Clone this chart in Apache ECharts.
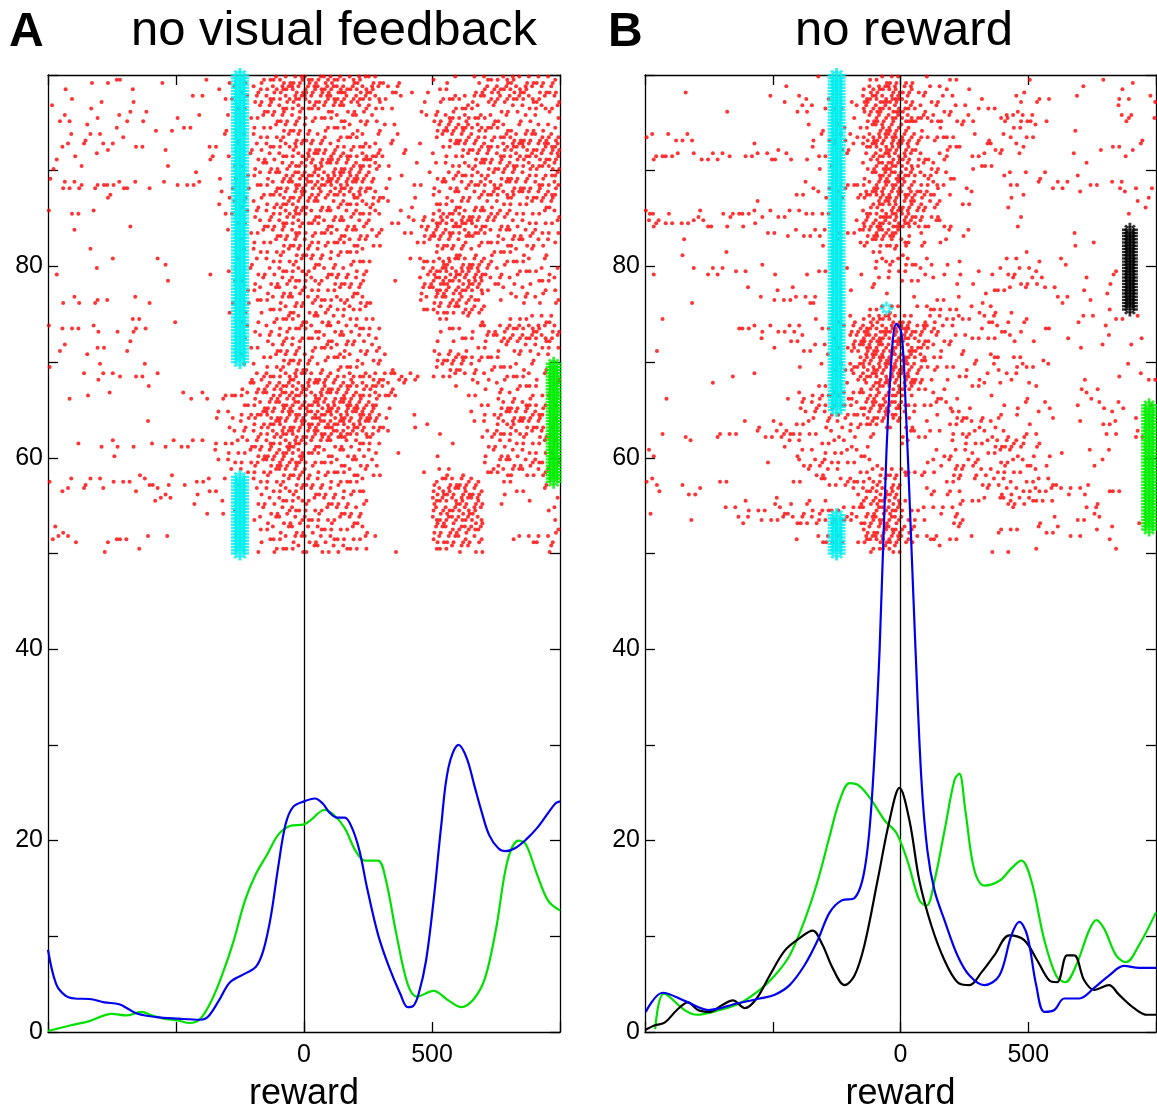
<!DOCTYPE html>
<html><head><meta charset="utf-8">
<script src="https://cdn.jsdelivr.net/npm/echarts@6/dist/echarts.min.js"></script>
<style>html,body{margin:0;padding:0;background:#fff}#c{width:1157px;height:1112px}</style>
</head><body><div id="c"></div>
<script>
// ---------------- DATA ----------------
const tickLabelsX = [0, 500];
const tickLabelsY = [0, 20, 40, 60, 80];
const xRange = [-1000, 1000];
const yRange = [0, 100];

// Raster density: one string per 1-unit trial band (top v=100 -> bottom v=50),
// 40 columns of 50 ms from -1000 ms; each digit = number of spike dots in that cell.
const rasterA = [
"0001120010 0010112345 5554441100 1202344333",
"0100001000 0001113455 6665542211 1102455433",
"0100101000 0111113445 5554541101 2323444432",
"1001001100 0000112344 3333322001 1232122233",
"1201011100 1100112233 3232320001 3443321211",
"0001010011 1101002233 2222211100 3554432222",
"0111110000 0001112233 3323211100 2343334444",
"0210211101 0011112334 3333331101 1244445556",
"1011000000 0020112233 5454541100 1223344445",
"1010000001 0000112334 4444441010 1233444444",
"1000000000 0101112345 5565521101 2333333333",
"0332232101 2200112345 5565421011 2334434344",
"0000200000 0001112345 4444431010 2233444444",
"0000000000 0001122344 3333331010 2332222222",
"1111000000 0001112345 3333330111 4444442222",
"0000001000 0000112344 3333311113 5555322222",
"0010000000 0000112234 3333331113 5454233322",
"0000000000 0000012233 3333320012 3332233322",
"0001000000 0000012233 3232200000 2222222210",
"0000010011 0000111223 2222210013 4444322210",
"1001000000 0010112233 3232300003 5665222222",
"0000000001 0000112233 3333300103 6556222122",
"0000000000 0000012233 2222200003 5454111221",
"0122101100 0000112233 3333310002 4443011222",
"0000000000 0000111233 2323200002 4444100000",
"0000001101 0000011233 2322210000 1111002222",
"1212012100 0000011233 3232320000 1212334443",
"0000001000 0000011233 2323220000 1121344443",
"1101101000 0000011233 2323230000 1111122222",
"0001000000 0000011233 3232221000 3443211111",
"1000100100 0000011233 2222211000 2322222210",
"0011121110 0000013344 4434343430 2212222221",
"0000000100 0000023455 4545443100 0101122211",
"0101100000 1122223455 4545443100 0011022211",
"0000000000 0000023455 5656541000 0001133431",
"0000000000 0002234555 6565651010 0001234441",
"0000000100 0000123455 5656541011 0001134431",
"0000000000 0000123455 5565431000 1001333331",
"0010121012 2112223455 3332320000 0100222221",
"0000010000 0001223455 3323220100 1000222221",
"0000000000 0001223455 3232320000 0000133331",
"0000000101 0000122344 2323220001 1210333331",
"1111121211 1121102233 3232200000 3443011010",
"0210101011 0111002233 2323200000 5554011110",
"0000000021 0101002233 3232200000 5455010101",
"0000000000 0011101233 2323200000 4554000002",
"0000000000 0000002233 3232200000 5545000001",
"1100000000 0000001223 2322200000 4454000002",
"2110121101 0000001223 3232210000 4443002222",
"0000100100 0000001223 2323200100 2232000002"
];
const rasterB = [
"0000000000 0001000134 2011100000 1000010010",
"0001000000 0100000456 5212010001 0000100100",
"0000000001 1020101677 4121101002 2101000202",
"0000001000 0121211566 4312112101 0000000100",
"0000000000 0000001355 6442220143 2100000311",
"0000000000 0011021255 3101100011 1001000000",
"2122000000 0002222566 5332111021 1000000010",
"0000000010 1001121466 5202201302 0000011120",
"2221222122 1211110356 5313012101 0001000100",
"0000000000 0001100366 5230012100 0000100000",
"0000000000 0000000266 5332100021 1101000000",
"0000000000 0011122366 4241010011 1121111211",
"0000000000 0111122566 6531010011 0000100101",
"0000000010 0000000256 5431110010 0000000011",
"3100203222 2122100466 6420000001 0000000100",
"3222211110 0000001566 6423000001 0000000000",
"0000000001 1222122466 1101110000 0001000000",
"0001000000 0001011343 4202000000 0001010000",
"0010001000 0000000111 1000000001 0000000000",
"0000000001 0000000033 3121100011 1020000000",
"1001121200 1011111012 1201101221 2000002000",
"0000000000 0000000111 2110110012 2100101000",
"0000000010 1100001110 0000001221 0110101000",
"0001000001 2222000000 0111101000 0021100000",
"0000000000 0000000123 0132111210 0000001000",
"0100000000 0001012455 4122312212 0001111110",
"0000000222 2211114666 7541101211 0200001000",
"0000000001 0210104666 5422122120 1001001010",
"1000000000 1021125666 5422100000 0000110010",
"0000000000 0000101666 6511110311 0100000000",
"0000000000 0011125666 6331120203 1100000100",
"0000001010 0000003566 6311112021 0000100112",
"0000010000 0001111366 6401012100 2000110000",
"0100000000 0123333444 2021100101 0000200000",
"0000000000 0023323566 3222010012 0201020201",
"0000000000 0012332455 2110411201 1100001010",
"0000000110 2120223332 2011212200 1000112000",
"0101021112 3321112200 2311231122 1000002030",
"0001000000 1111211100 2000122343 2000000000",
"2000000000 0111222100 0012121211 1110101000",
"0000000001 0033221110 0022231132 1100020000",
"0000000000 0012111233 4310412221 1000000000",
"3010011000 0111333333 0001212221 2210100000",
"0102100000 0000002455 0032101122 3212202100",
"0000000100 2120101455 1000212142 3200010000",
"1000001121 2113223355 2212200010 0000120000",
"0001000212 2233333555 2200400000 1011110010",
"0000000000 0000000455 4100100211 1210011000",
"0000000000 0102321566 4141110000 0001101000",
"0000000000 0000000234 0001000110 1000001000"
];

// Event markers (asterisk per trial): time (ms) and trial ranges (y)
const cyanTimeA = -250;   const cyanRangesA = [[70, 100], [50, 58]];
const greenTimeA = 975;   const greenRangesA = [[57.5, 70]];
const cyanTimeB = -250;   const cyanRangesB = [[65, 100], [50, 54]];
const cyanSingleB = [[-55, 75.6]];
const blackTimeB = 898;   const blackRangesB = [[75.5, 84]];
const greenTimeB = 973;   const greenRangesB = [[52.5, 65.5]];

// Spike density curves [time ms, value]
const blueA = [[-1000,8.6],[-968,5.0],[-932,3.8],[-896,3.5],[-838,3.45],[-780,3.1],[-722,2.9],[-686,2.4],[-650,1.9],[-578,1.56],[-491,1.39],[-405,1.28],[-376,1.56],[-332,3.3],[-289,5.2],[-231,6.1],[-188,6.8],[-159,8.5],[-130,12.0],[-101,17.2],[-72,21.7],[-43,23.5],[0,24.1],[43,24.4],[72,23.9],[101,22.9],[130,22.4],[159,22.4],[188,21.3],[217,18.9],[246,15.1],[289,10.2],[332,6.8],[376,4.0],[405,2.6],[426,2.7],[448,4.0],[477,7.5],[506,13.7],[535,21.3],[564,27.6],[604,30.0],[636,28.6],[665,25.8],[694,23.0],[723,20.6],[759,19.2],[788,18.9],[824,19.2],[867,20.1],[910,21.3],[954,22.9],[983,23.9],[1000,24.1]];
const greenA = [[-1000,0.1],[-910,0.7],[-838,1.14],[-751,1.9],[-694,1.73],[-636,2.1],[-592,1.73],[-549,1.39],[-491,1.2],[-448,0.94],[-405,1.39],[-361,3.3],[-318,6.1],[-275,9.5],[-231,13.7],[-188,16.5],[-145,18.5],[-101,20.6],[-58,21.5],[0,21.7],[29,22.2],[79,23.2],[116,22.7],[159,21.3],[202,18.9],[238,17.9],[289,17.9],[318,16.1],[361,10.2],[405,5.0],[441,3.7],[506,4.3],[564,3.3],[614,2.6],[665,3.5],[708,5.7],[751,10.9],[795,17.9],[838,20.0],[867,19.6],[910,16.5],[954,13.7],[1000,12.7]];
const blueB = [[-997,2.1],[-931,4.1],[-840,3.2],[-752,2.3],[-637,3.0],[-551,3.5],[-492,3.9],[-434,4.9],[-375,7.0],[-324,9.6],[-277,12.5],[-230,13.75],[-180,14.0],[-141,16.9],[-113,24.0],[-82,39.8],[-55,60.6],[-31,72.0],[-16,74.0],[4,73.0],[20,65.6],[39,53.3],[59,39.8],[82,26.3],[105,19.0],[133,14.8],[172,11.7],[223,8.0],[270,5.9],[328,4.9],[387,5.9],[434,10.1],[465,11.5],[496,10.1],[531,4.9],[563,2.1],[602,2.3],[641,3.5],[700,3.5],[758,4.6],[816,5.9],[875,6.9],[934,6.7],[1000,6.7]];
const greenB = [[-960,0.3],[-926,4.0],[-840,2.2],[-797,1.8],[-707,2.3],[-629,3.0],[-551,4.4],[-492,5.9],[-434,8.0],[-375,11.7],[-324,15.8],[-277,20.5],[-238,24.2],[-199,26.0],[-160,25.7],[-113,24.2],[-62,22.1],[-16,20.8],[27,17.9],[74,13.75],[102,13.2],[133,15.8],[172,21.0],[211,26.3],[230,27.0],[254,23.1],[289,16.9],[328,15.3],[387,15.8],[434,17.1],[473,17.9],[512,15.8],[563,9.6],[609,5.9],[645,5.2],[688,7.0],[738,10.6],[766,11.7],[797,10.8],[844,8.0],[883,7.3],[934,9.1],[1000,12.5]];
const blackB = [[-1000,0.2],[-961,0.7],[-922,1.0],[-875,2.3],[-832,3.1],[-793,2.3],[-746,2.1],[-699,2.8],[-656,3.3],[-609,2.5],[-563,3.5],[-512,5.9],[-453,8.5],[-395,9.8],[-344,10.6],[-305,9.1],[-266,6.7],[-219,4.9],[-180,5.9],[-141,9.1],[-90,15.8],[-43,22.1],[-4,25.5],[35,22.1],[74,15.8],[121,11.1],[172,7.5],[223,5.2],[270,4.9],[316,6.2],[367,8.0],[426,10.1],[484,9.6],[535,7.5],[582,5.4],[613,5.2],[652,8.0],[680,8.0],[719,5.4],[758,4.4],[816,4.9],[855,3.9],[914,2.5],[965,1.8],[1000,1.8]];

// ---------------- RENDER ----------------
const SUB = [[1,1],[0,3],[2,0],[0,1],[2,2],[1,3],[1,0],[0,2],[2,3],[2,1],[0,0],[1,2]];
function rasterPoints(grid){
  const pts = [];
  grid.forEach((row, r) => {
    const s = row.replace(/\s/g, '');
    for (let c = 0; c < s.length; c++) {
      const n = +s[c];
      const start = (r * 5 + c * 7) % 12;
      for (let k = 0; k < n; k++) {
        const [sr, sc] = SUB[(start + k) % 12];
        pts.push([xRange[0] + 50 * c + 6.25 + 12.5 * sc + (sr - 1) * 3, yRange[1] - r - (sr + 0.5) / 3]);
      }
    }
  });
  return pts;
}
function markerPoints(t, ranges){
  const pts = [];
  ranges.forEach(([a, b]) => { for (let v = a; v <= b + 1e-9; v += 1/3) pts.push([t, v]); });
  return pts;
}
const ASTER = 'path://M-1.4,-8L1.4,-8L1.4,8L-1.4,8Z M-8,-1.4L8,-1.4L8,1.4L-8,1.4Z M3.9,6.0L6.0,3.9L-3.9,-6.0L-6.0,-3.9Z M6.0,-3.9L3.9,-6.0L-6.0,3.9L-3.9,6.0Z';
const FONT = "'Liberation Sans', Arial, Helvetica, sans-serif";
const AX = {color:'#000', width:1.3};
const grids = [
  {left:48, top:75, width:512, height:957, containLabel:false, outerBoundsMode:'none'},
  {left:645, top:75, width:511, height:957, containLabel:false, outerBoundsMode:'none'}
];
const xAxis = [], yAxis = [];
grids.forEach((g, i) => {
  xAxis.push({gridIndex:i, type:'value', min:xRange[0], max:xRange[1], interval:500, position:'bottom',
    axisLine:{show:true, onZero:false, lineStyle:AX}, axisTick:{show:true, inside:true, length:10, lineStyle:AX},
    axisLabel:{show:true, color:'#000', fontSize:25, fontFamily:FONT, margin:11,
      formatter: v => tickLabelsX.includes(v) ? String(v) : ''},
    splitLine:{show:false},
    name:'reward', nameLocation:'middle', nameGap:44,
    nameTextStyle:{color:'#000', fontSize:36, fontFamily:FONT}});
  xAxis.push({gridIndex:i, type:'value', min:xRange[0], max:xRange[1], interval:500, position:'top',
    axisLine:{show:true, onZero:false, lineStyle:AX}, axisTick:{show:true, inside:true, length:10, lineStyle:AX},
    axisLabel:{show:false}, splitLine:{show:false}});
  yAxis.push({gridIndex:i, type:'value', min:yRange[0], max:yRange[1], interval:10, position:'left',
    axisLine:{show:true, onZero:false, lineStyle:AX}, axisTick:{show:true, inside:true, length:10, lineStyle:AX},
    axisLabel:{show:true, color:'#000', fontSize:25, fontFamily:FONT, margin:5,
      formatter: v => tickLabelsY.includes(v) ? String(v) : ''},
    splitLine:{show:false}});
  yAxis.push({gridIndex:i, type:'value', min:yRange[0], max:yRange[1], interval:10, position:'right',
    axisLine:{show:true, onZero:false, lineStyle:AX}, axisTick:{show:true, inside:true, length:10, lineStyle:AX},
    axisLabel:{show:false}, splitLine:{show:false}});
});
function sc(i, data, extra){
  return Object.assign({type:'scatter', xAxisIndex:2*i, yAxisIndex:2*i, data, silent:true, animation:false}, extra);
}
function ln(i, data, color){
  return {type:'line', xAxisIndex:2*i, yAxisIndex:2*i, data, smooth:0.35, showSymbol:false, symbol:'none',
    lineStyle:{color, width:2.2}, z:6, silent:true, animation:false};
}
const zeroLine = {silent:true, symbol:['none','none'], label:{show:false}, animation:false,
  lineStyle:{color:'#000', width:1.3, type:'solid'}, data:[{xAxis:0}]};
const series = [
  sc(0, rasterPoints(rasterA), {symbol:'circle', symbolSize:4, itemStyle:{color:'#ff0000'}, z:2, markLine:zeroLine}),
  sc(0, markerPoints(cyanTimeA, cyanRangesA), {symbol:ASTER, symbolSize:[18,14], itemStyle:{color:'#00eeee'}, z:3}),
  sc(0, markerPoints(greenTimeA, greenRangesA), {symbol:ASTER, symbolSize:[16,14], itemStyle:{color:'#00ee00'}, z:3}),
  ln(0, greenA, '#00e000'),
  ln(0, blueA, '#0000ee'),
  sc(1, rasterPoints(rasterB), {symbol:'circle', symbolSize:4, itemStyle:{color:'#ff0000'}, z:2, markLine:zeroLine}),
  sc(1, markerPoints(cyanTimeB, cyanRangesB), {symbol:ASTER, symbolSize:[18,14], itemStyle:{color:'#00eeee'}, z:3}),
  sc(1, cyanSingleB, {symbol:ASTER, symbolSize:[14,14], itemStyle:{color:'#00eeee'}, z:3}),
  sc(1, markerPoints(blackTimeB, blackRangesB), {symbol:ASTER, symbolSize:[16,14], itemStyle:{color:'#000'}, z:3}),
  sc(1, markerPoints(greenTimeB, greenRangesB), {symbol:ASTER, symbolSize:[16,14], itemStyle:{color:'#00ee00'}, z:3}),
  ln(1, greenB, '#00e000'),
  ln(1, blackB, '#000000'),
  ln(1, blueB, '#0000ee')
];
const T = (text, x, y, size, w) => ({type:'text', left:x, top:y, style:{text, fill:'#000', font:`${w||'normal'} ${size}px ${FONT}`}});
const chart = echarts.init(document.getElementById('c'), null, {renderer:'canvas'});
chart.setOption({
  animation:false, backgroundColor:'#fff',
  grid:grids, xAxis, yAxis, series,
  graphic:[T('A', 9, 9, 48, 'bold'), T('no visual feedback', 131, 7, 49), T('B', 608, 9, 48, 'bold'), T('no reward', 795, 7, 49)]
});
</script></body></html>
